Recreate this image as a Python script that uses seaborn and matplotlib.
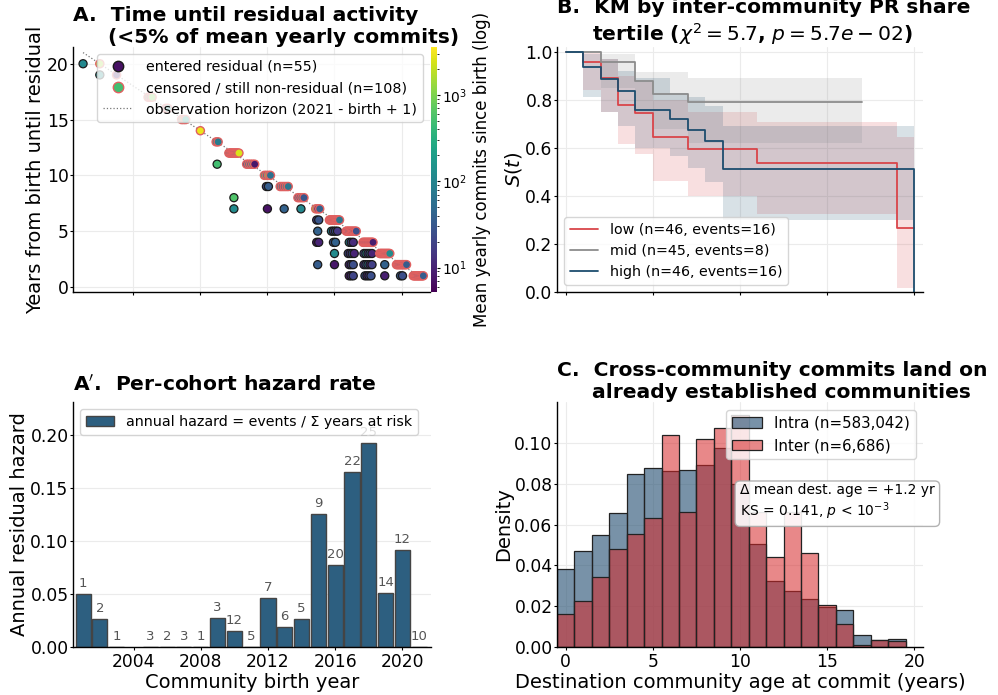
import numpy as np
import pandas as pd
import matplotlib
matplotlib.use("Agg")
import matplotlib.pyplot as plt
import seaborn as sns
from matplotlib.colors import LogNorm
from matplotlib.lines import Line2D
import matplotlib.cm as cm

# ---------------- Panel A: time until residual ----------------
ent_birth = [2001, 2002, 2009, 2010, 2010, 2012, 2012, 2012, 2013, 2014,
             2015, 2015, 2015, 2015, 2015, 2015,
             2016, 2016, 2016, 2016, 2016, 2016, 2016, 2016,
             2017, 2017, 2017, 2017, 2017, 2017, 2017, 2017, 2017, 2017, 2017, 2017, 2017,
             2018, 2018, 2018, 2018, 2018, 2018, 2018, 2018, 2018, 2018, 2018, 2018, 2018, 2018,
             2019, 2019, 2020, 2020]
ent_years = [20, 19, 11, 8, 7, 9, 9, 7, 7, 7,
             6, 6, 5, 4, 4, 2,
             5, 5, 5, 5, 4, 4, 3, 2,
             4, 4, 4, 3, 3, 3, 3, 2, 2, 2, 1, 1, 1,
             3, 3, 3, 3, 3, 2, 2, 2, 2, 2, 1, 1, 1, 1,
             2, 1, 1, 1]
ent_commits = [110, 130, 500, 600, 120, 20, 35, 7, 40, 110,
               15, 30, 40, 8, 10, 35,
               100, 20, 30, 15, 30, 40, 120, 8,
               100, 20, 12, 20, 15, 30, 10, 10, 15, 25, 8, 12, 20,
               20, 100, 15, 30, 10, 12, 25, 60, 9, 18, 30, 10, 15, 25,
               40, 9, 35, 25]

cen_birth = ([2002, 2003] + [2005] * 3 + [2006] * 2 + [2007] * 3 + [2008] + [2009] * 2 +
             [2010] * 10 + [2011] * 5 + [2012] * 4 + [2013] * 5 + [2014] * 4 + [2015] * 3 +
             [2016] * 12 + [2017] * 9 + [2018] * 11 + [2019] * 12 + [2020] * 10 + [2021] * 10)
cen_commits = ([1500, 8] + [300, 200, 1000] + [50, 150] + [400, 800, 200] + [3000] + [120, 80] +
               [100, 60, 150, 40, 80, 200, 30, 120, 90, 2500] + [40, 100, 60, 150, 8] +
               [300, 120, 800, 60] + [90, 50, 40, 120, 70] + [60, 40, 90, 30] + [1000, 15, 40] +
               [8, 40, 200, 500, 60, 30, 20, 100, 150, 10, 25, 70] +
               [10, 30, 40, 60, 20, 15, 100, 8, 25] +
               [8, 20, 30, 15, 40, 10, 50, 25, 12, 18, 9] +
               [60, 100, 40, 20, 30, 15, 80, 25, 50, 10, 35, 120] +
               [50, 30, 20, 80, 15, 40, 10, 25, 60, 35] +
               [40, 30, 60, 20, 15, 50, 25, 80, 10, 35])
OBS_END = 2021

# ---------------- Panel A': per-cohort hazard ----------------
haz_year = [2001, 2002, 2003, 2005, 2006, 2007, 2008, 2009, 2010, 2011,
            2012, 2013, 2014, 2015, 2016, 2017, 2018, 2019, 2020, 2021]
haz_rate = [0.050, 0.026, 0.0, 0.0, 0.0, 0.0, 0.0, 0.027, 0.015, 0.0,
            0.046, 0.019, 0.026, 0.125, 0.077, 0.165, 0.192, 0.051, 0.091, 0.0]
haz_n = [1, 2, 1, 3, 2, 3, 1, 3, 12, 5, 7, 6, 5, 9, 20, 22, 25, 14, 12, 10]

# ---------------- Panel B: Kaplan-Meier ----------------
low_t = [0, 1, 2, 3, 4, 5, 7, 11, 19, 20]
low_s = [1.0, 0.957, 0.891, 0.778, 0.747, 0.646, 0.597, 0.535, 0.267, 0.267]
low_lo = [1.0, 0.84, 0.75, 0.615, 0.576, 0.461, 0.40, 0.326, 0.015, 0.015]
low_hi = [1.0, 0.995, 0.97, 0.90, 0.875, 0.80, 0.75, 0.708, 0.646, 0.646]

mid_t = [0, 2, 4, 5, 7, 17]
mid_s = [1.0, 0.956, 0.878, 0.826, 0.792, 0.792]
mid_lo = [1.0, 0.85, 0.74, 0.68, 0.621, 0.621]
mid_hi = [1.0, 0.99, 0.914, 0.914, 0.892, 0.892]

high_t = [0, 1, 2, 3, 4, 6, 7, 8, 9, 20]
high_s = [1.0, 0.935, 0.886, 0.838, 0.757, 0.722, 0.674, 0.627, 0.512, 0.0]
high_lo = [1.0, 0.81, 0.75, 0.69, 0.60, 0.565, 0.515, 0.46, 0.30, 0.30]
high_hi = [1.0, 0.99, 0.97, 0.92, 0.89, 0.83, 0.81, 0.775, 0.69, 0.69]

km_labels = ["low (n=46, events=16)", "mid (n=45, events=8)", "high (n=46, events=16)"]

# ---------------- Panel C: destination age histograms ----------------
bin_edges = [-0.5 + i for i in range(21)]
intra_density = [0.038, 0.047, 0.055, 0.0655, 0.0847, 0.0879, 0.0863, 0.0865, 0.0893, 0.0974,
                 0.080, 0.0505, 0.0321, 0.0275, 0.0235, 0.0195, 0.0179, 0.0057, 0.0036, 0.0041]
inter_density = [0.0163, 0.0226, 0.0345, 0.0479, 0.0552, 0.0630, 0.1037, 0.0663, 0.1020, 0.1075,
                 0.1137, 0.0663, 0.0440, 0.0663, 0.0459, 0.0207, 0.0112, 0.0008, 0.0033, 0.0029]

# ================= drawing =================
sns.set_style("ticks")
plt.rcParams["font.family"] = ["DejaVu Sans"]
for k in ("text.color", "axes.labelcolor", "xtick.color", "ytick.color", "axes.edgecolor"):
    plt.rcParams[k] = "black"
plt.rcParams["xtick.major.size"] = 2.5
plt.rcParams["ytick.major.size"] = 2.0
plt.rcParams["xtick.major.pad"] = 1.5
plt.rcParams["ytick.major.pad"] = 1.2

W, H = 998, 695
fig = plt.figure(figsize=(W / 100, H / 100), dpi=100)
fig.patch.set_facecolor("white")


def add(l, t, r, b):
    return fig.add_axes([l / W, 1 - b / H, (r - l) / W, (b - t) / H])


axA = add(73, 47, 430, 292)
cax = add(431, 47, 437, 292)
axB = add(557, 47, 923, 292)
axA2 = add(73, 402, 431, 647)
axC = add(557, 402, 923, 647)

TICK = 12.3
LAB = 14
TITLE = 14.6
LEG = 10.3
GRID = dict(color="#ebebeb", lw=0.8)


def spread(birth, years):
    df = pd.DataFrame({"b": birth, "y": years})
    k = df.groupby(["b", "y"])["b"].transform("size").to_numpy()
    i = df.groupby(["b", "y"]).cumcount().to_numpy()
    w = np.minimum(0.3, 0.06 * (k - 1))
    off = np.where(k > 1, -w + 2 * w * i / np.maximum(k - 1, 1), 0.0)
    return df["b"].to_numpy() + off


norm = LogNorm(vmin=5.2, vmax=3600)
cen_years = [OBS_END - b + 1 for b in cen_birth]

# horizon line
hx = np.array([min(ent_birth + cen_birth), OBS_END])
axA.plot(hx, OBS_END - hx + 1, ls=":", color="#777777", lw=0.9, zorder=1)

sns.scatterplot(x=spread(ent_birth, ent_years), y=ent_years, hue=ent_commits, hue_norm=norm,
                palette="viridis", s=34, edgecolor="#1a1a1a", linewidth=0.9, legend=False,
                ax=axA, zorder=3)
sns.scatterplot(x=spread(cen_birth, cen_years), y=cen_years, hue=cen_commits, hue_norm=norm,
                palette="viridis", s=34, edgecolor="#e06060", linewidth=1.0, legend=False,
                ax=axA, zorder=3)
axA.set_xlim(2000.4, 2021.7)
axA.set_ylim(-0.45, 21.5)
axA.set_xticks([2004, 2008, 2012, 2016, 2020])
axA.set_yticks([0, 5, 10, 15, 20])
axA.tick_params(labelbottom=False, labelsize=TICK)
axA.set_xlabel("")
axA.set_ylabel("Years from birth until residual", fontsize=LAB, labelpad=1)
axA.grid(True, **GRID)
axA.set_axisbelow(True)
vir = plt.get_cmap("viridis")
hA = [Line2D([], [], ls="", marker="o", markersize=7.5, markerfacecolor=vir(norm(7)),
             markeredgecolor="#1a1a1a"),
      Line2D([], [], ls="", marker="o", markersize=7.5, markerfacecolor=vir(norm(500)),
             markeredgecolor="#e06060"),
      Line2D([], [], ls=":", color="#777777", lw=0.9)]
axA.legend(hA, ["entered residual (n=55)", "censored / still non-residual (n=108)",
                "observation horizon (2021 - birth + 1)"],
           loc="upper right", fontsize=LEG, frameon=True, handletextpad=1.0)
axA.set_title("A.  Time until residual activity\n     (<5% of mean yearly commits)",
              loc="left", fontsize=TITLE, fontweight="bold", pad=0.5)
sm = cm.ScalarMappable(norm=norm, cmap="viridis")
cb = fig.colorbar(sm, cax=cax)
cb.outline.set_visible(False)
cb.ax.tick_params(labelsize=10, length=2, pad=1.5)
cb.ax.tick_params(which="minor", length=1.2)
cb.set_label("Mean yearly commits since birth (log)", fontsize=12, labelpad=4)

# ---- A' hazard bars
sns.barplot(x=haz_year, y=haz_rate, native_scale=True, orient="x", color="#2d5f80",
            saturation=1, width=0.9, edgecolor="#444444", linewidth=1.0, ax=axA2,
            label="annual hazard = events / \u03a3 years at risk")
for yr, r, n in zip(haz_year, haz_rate, haz_n):
    axA2.text(yr, r + 0.004, str(n), ha="center", va="bottom", fontsize=9.5, color="#555555")
axA2.set_xlim(2000.4, 2021.7)
axA2.set_ylim(0, 0.231)
axA2.set_xticks([2004, 2008, 2012, 2016, 2020])
axA2.set_xticklabels(["2004", "2008", "2012", "2016", "2020"])
axA2.set_yticks([0, 0.05, 0.10, 0.15, 0.20])
axA2.tick_params(labelsize=TICK)
axA2.set_xlabel("Community birth year", fontsize=LAB, labelpad=1.5)
axA2.set_ylabel("Annual residual hazard", fontsize=LAB, labelpad=1)
axA2.grid(True, axis="y", **GRID)
axA2.set_axisbelow(True)
axA2.legend(loc="upper left", fontsize=LEG)
axA2.set_title("A$'$.  Per-cohort hazard rate", loc="left", fontsize=TITLE,
               fontweight="bold", pad=8)

# ---- B KM
km = [(low_t, low_s, low_lo, low_hi, "#d9454a"),
      (mid_t, mid_s, mid_lo, mid_hi, "#8c8c8c"),
      (high_t, high_s, high_lo, high_hi, "#1d4d6e")]
for (t, s, lo, hi, c), lab in zip(km, km_labels):
    axB.fill_between(t, lo, hi, step="post", color=c, alpha=0.17, lw=0)
    sns.lineplot(x=t, y=s, drawstyle="steps-post", color=c, lw=1.3, ax=axB, label=lab,
                 errorbar=None)
axB.set_xlim(-0.5, 20.5)
axB.set_ylim(0, 1.02)
axB.set_xticks([0, 5, 10, 15, 20])
axB.set_yticks([0, 0.2, 0.4, 0.6, 0.8, 1.0])
axB.tick_params(labelbottom=False, labelsize=TICK)
axB.set_ylabel("$S(t)$", fontsize=LAB, labelpad=1)
axB.grid(True, **GRID)
axB.set_axisbelow(True)
axB.legend(loc="lower left", fontsize=LEG)
axB.set_title("B.  KM by inter-community PR share\n     tertile ($\\chi^2 = 5.7$, $p = 5.7e-02$)",
              loc="left", fontsize=TITLE, fontweight="bold", pad=0.5)

# ---- C histograms
centers = [(a + b) / 2 for a, b in zip(bin_edges[:-1], bin_edges[1:])]
sns.histplot(x=centers, weights=intra_density, bins=bin_edges, stat="count",
             color="#265073", alpha=0.62, edgecolor="#222222", linewidth=0.9, ax=axC,
             label="Intra (n=583,042)")
sns.histplot(x=centers, weights=inter_density, bins=bin_edges, stat="count",
             color="#d62728", alpha=0.55, edgecolor="#222222", linewidth=0.9, ax=axC,
             label="Inter (n=6,686)")
axC.set_xlim(-0.5, 20.5)
axC.set_ylim(0, 0.12)
axC.set_xticks([0, 5, 10, 15, 20])
axC.set_yticks([0, 0.02, 0.04, 0.06, 0.08, 0.10])
axC.tick_params(labelsize=TICK)
axC.set_xlabel("Destination community age at commit (years)", fontsize=LAB, labelpad=1.5)
axC.set_ylabel("Density", fontsize=LAB, labelpad=1)
axC.grid(True, **GRID)
axC.set_axisbelow(True)
axC.legend(loc="upper right", fontsize=10.8)
axC.text(0.5, 0.67, "\u0394 mean dest. age = +1.2 yr\nKS = 0.141, $p$ < $10^{-3}$",
         transform=axC.transAxes, ha="left", va="top", fontsize=10, zorder=5,
         bbox=dict(boxstyle="round,pad=0.35", facecolor="white", edgecolor="#aaaaaa", alpha=0.9))
axC.set_title("C.  Cross-community commits land on\n     already established communities",
              loc="left", fontsize=TITLE, fontweight="bold", pad=0)

for ax in (axA, axB, axA2, axC):
    sns.despine(ax=ax)
    for sp in ("left", "bottom"):
        ax.spines[sp].set_linewidth(1.0)

fig.savefig("out.png", dpi=100, facecolor="white")
